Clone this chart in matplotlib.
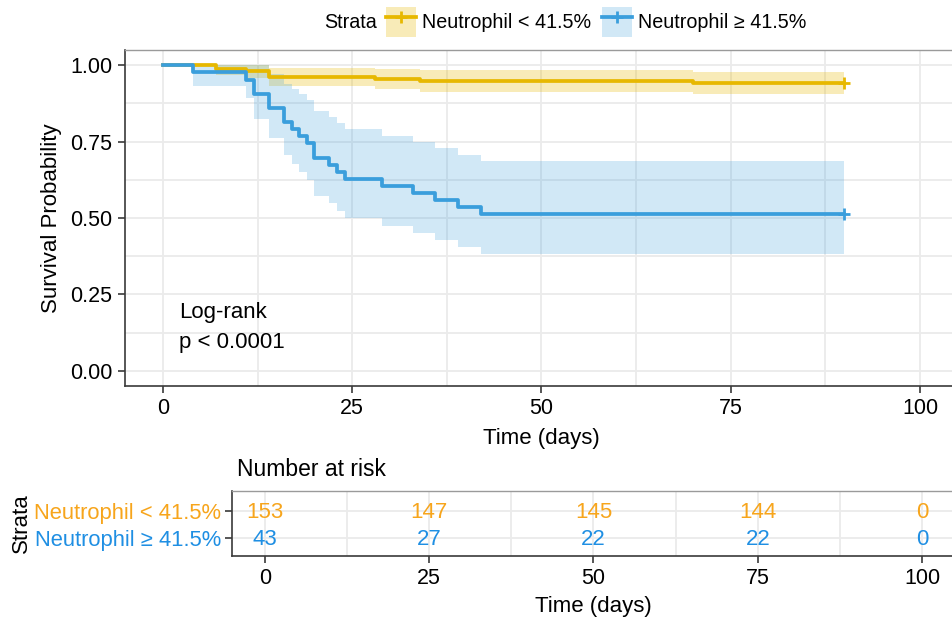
"""Kaplan-Meier curve by neutrophil group with number-at-risk table."""

import matplotlib

matplotlib.use("Agg")
import matplotlib.pyplot as plt
from matplotlib.lines import Line2D
from matplotlib.patches import Patch

plt.rcParams["font.family"] = ["Liberation Sans", "DejaVu Sans"]

# ---- data ----
labels = ["Neutrophil < 41.5%", "Neutrophil \u2265 41.5%"]

t_low = [0, 7, 11, 14, 28, 34, 70, 90]
s_low = [1.0, 0.987, 0.980, 0.961, 0.954, 0.948, 0.941, 0.941]
lo_low = [1.0, 0.969, 0.959, 0.931, 0.922, 0.913, 0.905, 0.905]
hi_low = [1.0, 1.0, 1.0, 0.992, 0.988, 0.984, 0.979, 0.979]

t_high = [0, 4, 11, 12, 14, 16, 17, 18, 19, 20, 22, 23, 24, 29, 33, 36, 39, 42, 90]
s_high = [1.0, 0.977, 0.953, 0.907, 0.860, 0.814, 0.791, 0.767, 0.744, 0.698,
          0.674, 0.651, 0.628, 0.605, 0.581, 0.558, 0.535, 0.512, 0.512]
lo_high = [1.0, 0.933, 0.892, 0.825, 0.763, 0.706, 0.678, 0.651, 0.625, 0.573,
           0.548, 0.523, 0.499, 0.475, 0.451, 0.428, 0.405, 0.382, 0.382]
hi_high = [1.0, 1.0, 1.0, 1.0, 0.970, 0.938, 0.922, 0.905, 0.887, 0.849,
           0.830, 0.811, 0.790, 0.770, 0.749, 0.728, 0.707, 0.685, 0.685]

risk_times = [0, 25, 50, 75, 100]
risk_low = [153, 147, 145, 144, 0]
risk_high = [43, 27, 22, 22, 0]

# ---- styling ----
W, H = 953, 621
LINE_COLORS = ["#E7B800", "#3A9EDC"]
BAND_ALPHA = [0.28, 0.23]
TEXT_COLORS = ["#F7A51C", "#1F8FE3"]
GRID = "#EBEBEB"
AXIS = "#3A3A3A"


def fig_box(x0, y0, x1, y1):
    """Pixel box (top-left origin) -> figure fraction rect."""
    return [x0 / W, 1 - y1 / H, (x1 - x0) / W, (y1 - y0) / H]


def style_axes(ax):
    ax.set_facecolor("white")
    for side in ("left", "bottom"):
        ax.spines[side].set_color(AXIS)
        ax.spines[side].set_linewidth(1.2)
    ax.spines["top"].set_color("#9A9A9A")
    ax.spines["top"].set_linewidth(1.0)
    ax.spines["right"].set_visible(False)
    ax.grid(True, which="both", color=GRID, linewidth=1.3)
    ax.set_axisbelow(True)
    ax.tick_params(which="major", length=5, width=1.2, color=AXIS, pad=4,
                   labelsize=15.5)
    ax.tick_params(which="minor", length=0)


def draw_km(ax):
    curves = [(t_low, s_low, lo_low, hi_low), (t_high, s_high, lo_high, hi_high)]
    for (t, s, lo, hi), col, a in zip(curves, LINE_COLORS, BAND_ALPHA):
        ax.fill_between(t, lo, hi, step="post", color=col, alpha=a,
                        linewidth=0)
    for (t, s, lo, hi), col in zip(curves, LINE_COLORS):
        ax.step(t, s, where="post", color=col, linewidth=2.7)
        ax.plot(t[-1], s[-1], marker="+", color=col, markersize=9,
                markeredgewidth=2)

    ax.set_xlim(-5, 105)
    ax.set_ylim(-0.05, 1.05)
    ax.set_xticks([0, 25, 50, 75, 100])
    ax.set_xticks([12.5, 37.5, 62.5, 87.5], minor=True)
    ax.set_yticks([0, 0.25, 0.5, 0.75, 1.0])
    ax.set_yticklabels(["0.00", "0.25", "0.50", "0.75", "1.00"])
    ax.set_yticks([0.125, 0.375, 0.625, 0.875], minor=True)
    ax.set_xlabel("Time (days)", fontsize=16, labelpad=6)
    ax.set_ylabel("Survival Probability", fontsize=16, labelpad=6)
    ax.text(2.1, 0.19, "Log-rank", fontsize=16, va="center")
    ax.text(2.1, 0.092, "p < 0.0001", fontsize=16, va="center")


def draw_risk_table(ax):
    rows = [risk_low, risk_high]
    ypos = [1, 0]
    for vals, y, col in zip(rows, ypos, TEXT_COLORS):
        for t, n in zip(risk_times, vals):
            ax.text(t, y - 0.07, str(n), color=col, fontsize=16, ha="center",
                    va="center")
    ax.set_xlim(-5, 105)
    ax.set_ylim(-0.67, 1.74)
    ax.set_xticks([0, 25, 50, 75, 100])
    ax.set_xticks([12.5, 37.5, 62.5, 87.5], minor=True)
    ax.set_yticks(ypos)
    ax.set_yticklabels(labels)
    ax.tick_params(axis="y", labelsize=15.8, pad=3)
    for lab, col in zip(ax.get_yticklabels(), TEXT_COLORS):
        lab.set_color(col)
    ax.set_xlabel("Time (days)", fontsize=16, labelpad=5)


def main():
    fig = plt.figure(figsize=(W / 100, H / 100), dpi=100)

    ax = fig.add_axes(fig_box(125, 50, 958, 386))
    style_axes(ax)
    draw_km(ax)

    ax_risk = fig.add_axes(fig_box(232, 491, 955, 556))
    style_axes(ax_risk)
    draw_risk_table(ax_risk)
    fig.text(237 / W, 1 - 470 / H, "Number at risk", fontsize=16.5,
             va="center", ha="left")
    fig.text(21 / W, 1 - 523 / H, "Strata", fontsize=16, rotation=90,
             va="center", ha="center")

    # legend at the top
    handles = [
        (Patch(facecolor=c, alpha=a, linewidth=0),
         Line2D([], [], color=c, linewidth=2.7, marker="+", markersize=9,
                markeredgewidth=2))
        for c, a in zip(LINE_COLORS, BAND_ALPHA)
    ]
    fs = 14.2
    em = fs * 100 / 72
    fig.legend(handles, labels, loc="center left",
               bbox_to_anchor=(386 / W, 1 - 22 / H), ncol=2, frameon=False,
               fontsize=fs, borderpad=0, borderaxespad=0,
               handlelength=30 / em, handleheight=40 / em,
               handletextpad=6 / em, columnspacing=11 / em)
    fig.text(377 / W, 1 - 22 / H, "Strata", fontsize=fs, ha="right",
             va="center")

    fig.savefig("out.png", dpi=100)


if __name__ == "__main__":
    main()
